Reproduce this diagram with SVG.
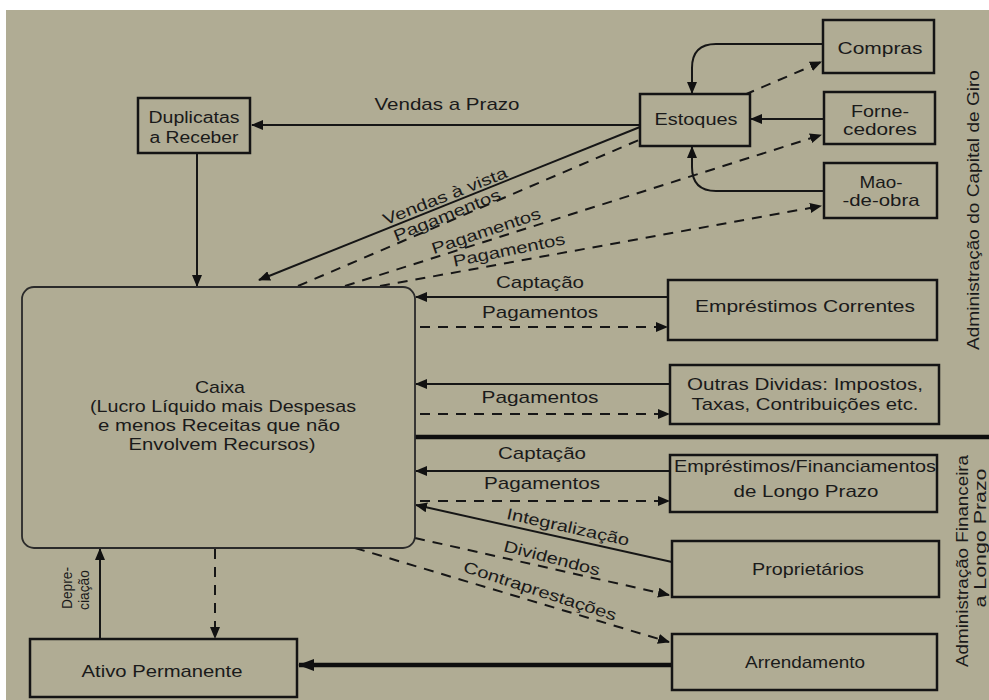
<svg xmlns="http://www.w3.org/2000/svg" width="989" height="700" viewBox="0 0 989 700">
<defs>
<style>
.bx{fill:#b0ac94;stroke:#141414;stroke-width:2.5}
.cx{fill:#b0ac94;stroke:#2a2a2a;stroke-width:1.8}
.s{fill:none;stroke:#161616;stroke-width:2}
.d{fill:none;stroke:#161616;stroke-width:2;stroke-dasharray:10 8}
.k{fill:none;stroke:#0e0e0e;stroke-width:4.5}
text{font-family:"Liberation Sans",Arial,sans-serif;fill:#1a1a1a;font-size:17px;text-anchor:middle}
.r{dominant-baseline:central}
.sm{font-size:16px}
</style>
<marker id="ah" viewBox="0 0 12 10" refX="11" refY="5" markerWidth="12" markerHeight="10" markerUnits="userSpaceOnUse" orient="auto"><path d="M0,0 L12,5 L0,10 z" fill="#111"/></marker>
<marker id="ahb" viewBox="0 0 16 12" refX="15" refY="6" markerWidth="16" markerHeight="12" markerUnits="userSpaceOnUse" orient="auto"><path d="M0,0 L16,6 L0,12 z" fill="#111"/></marker>
</defs>
<rect x="0" y="0" width="989" height="700" fill="#ffffff"/>
<rect x="6" y="10" width="983" height="690" fill="#b0ac94"/>

<g id="connectors">
<path class="s" d="M640,125 L252,125" marker-end="url(#ah)"/>
<path class="s" d="M197,153 L197,286" marker-end="url(#ah)"/>
<path class="s" d="M823,44 L716,44 Q692,44 692,68 L692,93" marker-end="url(#ah)"/>
<path class="s" d="M824,191 L716,191 Q692,191 692,167 L692,147" marker-end="url(#ah)"/>
<path class="s" d="M824,119 L751,119" marker-end="url(#ah)"/>
<path class="s" d="M640,127 L259,280" marker-end="url(#ah)"/>
<path class="d" d="M298,286 L821,62" marker-end="url(#ah)"/>
<path class="d" d="M345,286 L821,135" marker-end="url(#ah)"/>
<path class="d" d="M380,286 L821,206" marker-end="url(#ah)"/>
<path class="s" d="M668,297 L416,297" marker-end="url(#ah)"/>
<path class="d" d="M420,327 L667,327" marker-end="url(#ah)"/>
<path class="s" d="M670,384 L416,384" marker-end="url(#ah)"/>
<path class="d" d="M420,414 L669,414" marker-end="url(#ah)"/>
<path class="k" d="M415,437 L989,437"/>
<path class="s" d="M670,471 L416,471" marker-end="url(#ah)"/>
<path class="d" d="M420,501 L669,501" marker-end="url(#ah)"/>
<path class="s" d="M672,562 L416,505" marker-end="url(#ah)"/>
<path class="d" d="M415,538 L669,595" marker-end="url(#ah)"/>
<path class="d" d="M355,548 L669,642" marker-end="url(#ah)"/>
<path class="s" d="M100,639 L100,549" marker-end="url(#ah)"/>
<path class="d" d="M215,549 L215,638" marker-end="url(#ah)"/>
<path class="k" d="M672,665 L299,665" marker-end="url(#ahb)"/>
</g>

<g id="edge-labels">
<text x="447" y="110" textLength="145" lengthAdjust="spacingAndGlyphs">Vendas a Prazo</text>
<text class="r sm" transform="translate(445,196) rotate(-21.5)" textLength="132" lengthAdjust="spacingAndGlyphs">Vendas à vista</text>
<text class="r sm" transform="translate(447,215) rotate(-22)" textLength="114" lengthAdjust="spacingAndGlyphs">Pagamentos</text>
<text class="r sm" transform="translate(486,231) rotate(-18.5)" textLength="114" lengthAdjust="spacingAndGlyphs">Pagamentos</text>
<text class="r sm" transform="translate(509,250) rotate(-11.5)" textLength="114" lengthAdjust="spacingAndGlyphs">Pagamentos</text>
<text x="540" y="288" textLength="88" lengthAdjust="spacingAndGlyphs">Captação</text>
<text x="540" y="318" textLength="116" lengthAdjust="spacingAndGlyphs">Pagamentos</text>
<text x="540" y="403" textLength="117" lengthAdjust="spacingAndGlyphs">Pagamentos</text>
<text x="542" y="459" textLength="88" lengthAdjust="spacingAndGlyphs">Captação</text>
<text x="542" y="489" textLength="116" lengthAdjust="spacingAndGlyphs">Pagamentos</text>
<text class="r sm" transform="translate(568,527) rotate(12.5)" textLength="125" lengthAdjust="spacingAndGlyphs">Integralização</text>
<text class="r sm" transform="translate(552,558) rotate(14.5)" textLength="99" lengthAdjust="spacingAndGlyphs">Dividendos</text>
<text class="r sm" transform="translate(540,591) rotate(18)" textLength="160" lengthAdjust="spacingAndGlyphs">Contraprestações</text>
<text class="r" style="font-size:15px" transform="translate(66,588) rotate(-90)" textLength="42" lengthAdjust="spacingAndGlyphs">Depre-</text>
<text class="r" style="font-size:15px" transform="translate(83,590) rotate(-90)" textLength="40" lengthAdjust="spacingAndGlyphs">ciação</text>
</g>

<g id="duplicatas">
<rect class="bx" x="138" y="98" width="112" height="55"/>
<text class="sm" x="194" y="123" textLength="91" lengthAdjust="spacingAndGlyphs">Duplicatas</text>
<text class="sm" x="194" y="143" textLength="89" lengthAdjust="spacingAndGlyphs">a Receber</text>
</g>
<g id="estoques">
<rect class="bx" x="640" y="94" width="110" height="52"/>
<text x="696" y="125" textLength="83" lengthAdjust="spacingAndGlyphs">Estoques</text>
</g>
<g id="compras">
<rect class="bx" x="823" y="20" width="111" height="53"/>
<text x="880" y="54" textLength="85" lengthAdjust="spacingAndGlyphs">Compras</text>
</g>
<g id="fornecedores">
<rect class="bx" x="824" y="92" width="111" height="52"/>
<text x="880" y="117" textLength="58" lengthAdjust="spacingAndGlyphs">Forne-</text>
<text x="880" y="135" textLength="74" lengthAdjust="spacingAndGlyphs">cedores</text>
</g>
<g id="maodeobra">
<rect class="bx" x="824" y="163" width="113" height="55"/>
<text x="881" y="188" textLength="43" lengthAdjust="spacingAndGlyphs">Mao-</text>
<text x="881" y="206" textLength="77" lengthAdjust="spacingAndGlyphs">-de-obra</text>
</g>
<g id="caixa">
<rect class="cx" x="22" y="287" width="393" height="261" rx="12"/>
<text x="220" y="393" textLength="50" lengthAdjust="spacingAndGlyphs">Caixa</text>
<text x="223" y="412" textLength="266" lengthAdjust="spacingAndGlyphs">(Lucro Líquido mais Despesas</text>
<text x="219" y="431" textLength="242" lengthAdjust="spacingAndGlyphs">e menos Receitas que não</text>
<text x="222" y="450" textLength="187" lengthAdjust="spacingAndGlyphs">Envolvem Recursos)</text>
</g>
<g id="emprestimos-correntes">
<rect class="bx" x="668" y="280" width="269" height="60"/>
<text x="805" y="312" textLength="220" lengthAdjust="spacingAndGlyphs">Empréstimos Correntes</text>
</g>
<g id="outras-dividas">
<rect class="bx" x="670" y="365" width="269" height="59"/>
<text x="805" y="390" textLength="236" lengthAdjust="spacingAndGlyphs">Outras Dividas: Impostos,</text>
<text x="805" y="410" textLength="227" lengthAdjust="spacingAndGlyphs">Taxas, Contribuições etc.</text>
</g>
<g id="emprestimos-longo-prazo">
<rect class="bx" x="670" y="455" width="267" height="57"/>
<text x="805" y="472" textLength="262" lengthAdjust="spacingAndGlyphs">Empréstimos/Financiamentos</text>
<text x="806" y="497" textLength="145" lengthAdjust="spacingAndGlyphs">de Longo Prazo</text>
</g>
<g id="proprietarios">
<rect class="bx" x="672" y="541" width="267" height="56"/>
<text x="808" y="575" textLength="112" lengthAdjust="spacingAndGlyphs">Proprietários</text>
</g>
<g id="arrendamento">
<rect class="bx" x="672" y="634" width="265" height="56"/>
<text x="805" y="668" textLength="120" lengthAdjust="spacingAndGlyphs">Arrendamento</text>
</g>
<g id="ativo-permanente">
<rect class="bx" x="30" y="639" width="267" height="58"/>
<text x="162" y="677" textLength="161" lengthAdjust="spacingAndGlyphs">Ativo Permanente</text>
</g>
<g id="side-labels">
<text class="r" transform="translate(973,210) rotate(-90)" textLength="280" lengthAdjust="spacingAndGlyphs">Administração do Capital de Giro</text>
<text class="r sm" transform="translate(962,561) rotate(-90)" textLength="212" lengthAdjust="spacingAndGlyphs">Administração Financeira</text>
<text class="r sm" transform="translate(980,538) rotate(-90)" textLength="139" lengthAdjust="spacingAndGlyphs">a Longo Prazo</text>
</g>
</svg>
